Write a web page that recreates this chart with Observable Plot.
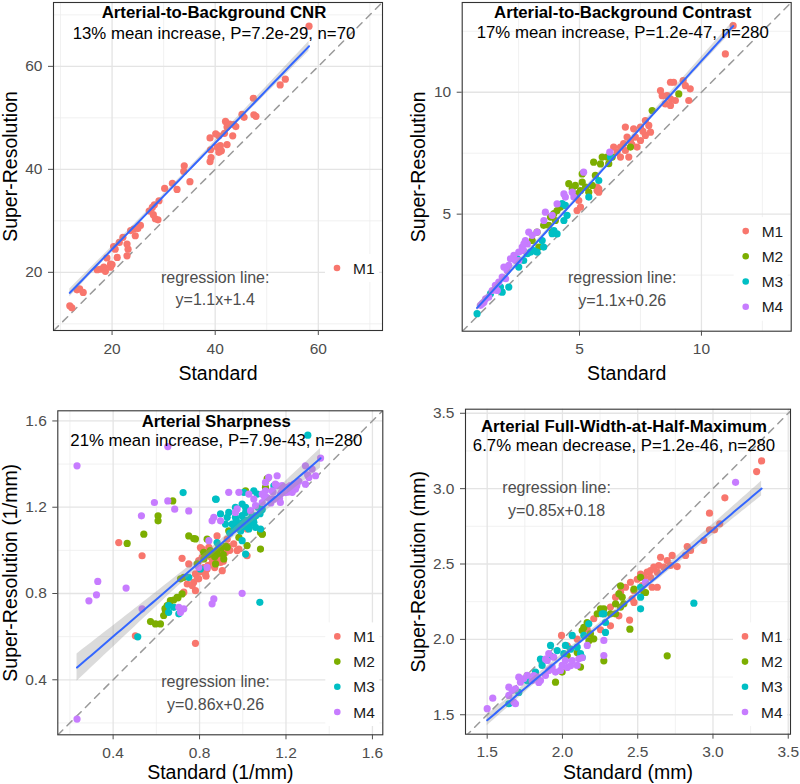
<!DOCTYPE html>
<html><head><meta charset="utf-8">
<script src="https://cdn.jsdelivr.net/npm/d3@7"></script>
<script src="https://cdn.jsdelivr.net/npm/@observablehq/plot@0.6"></script>
<style>
body{margin:0;background:#fff;}
#grid{display:grid;grid-template-columns:400px 400px;grid-template-rows:392px 392px;width:800px;height:784px;}
#grid svg{display:block;overflow:visible;}
</style></head><body><div id="grid"></div>
<script>
const methods = ["M1","M2","M3","M4"];
const methodColors = ["#F8766D","#7CAE00","#00BFC4","#C77CFF"];

// Panel 1: Arterial-to-Background CNR (M1 only) [standard, super-resolution]
const cnrM1 = [[58.2,67.8],[53.6,57.5],[52.6,56.4],[47.4,53.8],[47.5,50.6],[47.9,50.3],[45.2,50.7],[45.6,50.1],[43.6,48.7],[44.0,48.3],[42.0,49.3],[42.3,48.2],[42.8,48.8],[43.4,46.5],[42.3,44.8],[40.7,46.5],[40.1,46.9],[39.0,46.1],[39.1,43.8],[39.0,41.5],[39.2,42.3],[40.4,44.3],[40.7,43.3],[41.2,43.6],[41.0,44.6],[41.8,47.0],[34.0,40.7],[33.9,39.6],[35.1,37.6],[31.7,37.3],[30.2,36.3],[32.6,36.1],[29.1,33.9],[28.2,33.1],[27.8,32.6],[27.2,31.9],[28.4,30.4],[28.9,30.2],[28.0,31.2],[25.5,29.1],[24.2,28.4],[23.6,28.1],[24.5,27.1],[25.0,28.5],[22.1,26.8],[21.4,25.8],[22.9,25.5],[23.1,24.5],[22.9,23.2],[20.3,25.0],[20.6,24.5],[21.0,22.9],[19.0,22.8],[19.7,21.6],[18.4,21.0],[17.7,20.6],[17.1,20.5],[18.7,20.2],[19.7,21.0],[20.0,21.5],[13.7,16.8],[13.2,16.6],[14.4,16.1],[11.8,13.5],[12.2,13.1]];

// Panel 2: Arterial-to-Background Contrast
const contrastM1 = [[11.30,12.73],[10.98,11.57],[8.73,10.41],[8.86,10.41],[9.25,10.48],[9.34,10.27],[9.54,10.14],[8.32,10.07],[8.39,9.86],[8.59,9.86],[8.73,9.73],[8.93,9.66],[8.73,9.46],[8.52,9.52],[9.48,9.66],[7.70,8.84],[7.50,8.57],[6.88,8.57],[7.22,8.50],[7.84,8.64],[7.91,8.36],[7.70,8.23],[7.50,8.02],[7.29,8.16],[7.09,8.02],[6.95,8.16],[6.81,7.89],[6.68,7.75],[6.88,7.61],[6.54,7.54],[7.02,7.34],[6.68,7.34],[6.40,7.75],[7.36,7.75],[5.79,6.04],[5.72,5.97],[5.72,6.11],[5.79,5.90],[4.97,5.56],[4.90,5.15],[5.04,5.29],[7.60,8.40],[7.15,7.85]];
const contrastM2 = [[9.07,9.93],[7.98,9.25],[7.09,7.75],[6.34,7.34],[6.20,7.07],[5.93,7.34],[5.58,7.13],[5.65,6.59],[5.52,6.18],[4.56,6.25],[4.83,6.18],[5.11,6.31],[5.04,5.97],[5.25,6.11],[5.38,5.90],[5.11,6.65],[4.90,5.83],[3.95,5.02],[4.08,5.15],[3.81,4.88],[3.53,4.54],[4.01,4.74],[3.26,4.26],[3.06,3.92],[3.33,3.65],[3.74,4.54],[4.22,5.29],[6.13,7.34],[5.86,7.06],[4.70,6.05],[3.88,4.26]];
const contrastM3 = [[5.79,6.38],[5.38,5.70],[4.42,5.36],[4.29,5.43],[3.88,4.20],[3.95,4.33],[3.47,3.92],[3.53,3.65],[3.12,3.51],[2.99,3.44],[2.71,3.10],[2.51,2.83],[2.10,2.01],[1.83,1.80],[1.35,1.74],[0.80,0.92],[6.27,7.34],[4.36,4.74],[4.49,4.95],[4.08,4.19],[2.86,3.38],[3.26,3.44],[2.45,3.17],[1.76,2.01]];
const contrastM4 = [[6.24,7.54],[5.17,6.72],[4.70,5.90],[4.77,5.70],[4.42,5.70],[4.36,5.83],[3.60,5.08],[3.88,4.95],[2.92,4.26],[3.06,4.13],[2.78,3.92],[2.65,3.65],[2.51,3.44],[2.31,3.31],[2.37,3.10],[2.10,2.90],[2.03,2.69],[1.83,2.42],[1.69,2.21],[1.55,2.08],[1.42,1.87],[1.28,1.60],[1.08,1.39],[0.94,1.26],[2.51,3.10],[2.71,3.51],[4.08,5.42],[3.54,4.74],[3.26,4.26],[2.86,3.78],[2.72,3.78],[2.17,3.17],[1.97,2.35],[1.63,1.87],[1.90,2.83],[1.15,1.53],[1.01,1.33]];

// Panel 3: Arterial Sharpness (1/mm)
const sharpM1 = [[0.426,1.036],[0.534,0.975],[0.503,0.604],[0.719,0.963],[0.781,0.569],[0.750,0.937],[0.796,0.952],[0.812,1.006],[1.020,0.975],[0.974,0.999],[0.781,0.891],[0.796,0.868],[0.773,0.852],[0.827,0.891],[0.835,0.914],[0.905,0.906],[0.743,0.844],[0.766,0.837],[0.781,0.813],[0.727,0.806],[0.982,1.006],[0.958,1.030],[1.020,1.099],[0.889,0.983],[0.843,1.014],[0.812,0.968],[0.866,0.959],[0.897,0.944],[0.827,0.990],[1.028,1.137],[0.881,1.067],[0.928,1.052],[0.804,1.013],[0.80,0.90],[0.82,0.92],[0.84,0.93],[0.86,0.95],[0.88,0.96],[0.90,0.97],[0.92,0.99],[0.94,1.00],[0.83,0.88],[0.87,0.92],[0.91,0.95],[0.79,0.87],[0.85,0.97],[0.89,0.99],[0.93,1.02]];
const sharpM2 = [[0.465,1.032],[0.542,1.075],[0.608,1.160],[0.608,1.137],[0.676,1.229],[0.750,1.067],[0.773,1.055],[1.082,1.006],[0.819,0.991],[0.850,0.999],[0.881,0.983],[0.912,0.960],[0.874,0.937],[0.789,0.937],[0.727,0.875],[0.712,0.868],[0.719,0.798],[0.696,0.782],[0.665,0.767],[0.650,0.744],[0.642,0.721],[0.634,0.698],[0.573,0.670],[0.596,0.659],[0.619,0.659],[1.013,1.276],[1.105,1.292],[1.051,1.153],[1.082,1.083],[1.090,1.076],[1.020,1.022],[0.982,1.060],[0.935,1.091],[0.928,1.014],[0.889,1.014],[0.781,1.053],[1.090,1.075],[1.113,1.333],[0.835,1.052],[0.82,0.96],[0.84,0.98],[0.86,0.99],[0.88,1.00],[0.90,1.01],[0.92,1.02],[0.87,0.97],[0.91,0.98],[0.66,0.75],[0.68,0.77],[0.70,0.78],[0.64,0.73]];
const sharpM3 = [[1.301,1.534],[0.514,0.599],[0.724,1.268],[0.877,1.237],[1.079,0.759],[0.804,0.914],[0.750,0.875],[0.657,0.744],[0.681,0.736],[0.657,0.713],[0.704,0.706],[0.874,1.238],[1.005,1.269],[1.051,1.276],[1.067,1.261],[0.997,1.215],[1.013,1.199],[0.966,1.199],[0.935,1.176],[0.928,1.153],[0.966,1.153],[0.997,1.161],[1.013,1.176],[1.044,1.161],[1.051,1.130],[1.005,1.122],[1.028,1.099],[1.059,1.107],[0.982,1.107],[0.951,1.122],[0.920,1.122],[0.897,1.169],[0.997,1.045],[1.082,1.099],[1.013,0.983],[1.144,1.299],[0.881,1.036],[0.96,1.10],[0.98,1.12],[1.00,1.13],[1.02,1.14],[1.04,1.15],[1.06,1.16],[1.08,1.17],[0.99,1.09],[1.01,1.11],[1.03,1.12],[1.05,1.13],[1.07,1.20],[0.94,1.08],[0.97,1.14],[1.09,1.19]];
const sharpM4 = [[0.233,1.392],[0.233,0.218],[0.653,1.481],[0.288,0.766],[0.323,0.794],[0.329,0.856],[0.460,0.825],[0.531,1.160],[0.534,0.729],[0.591,1.222],[0.653,1.229],[0.685,1.191],[0.750,1.183],[0.997,0.801],[0.866,0.775],[0.858,0.752],[0.704,0.736],[0.727,0.729],[0.712,0.713],[0.835,0.921],[0.796,0.921],[1.360,1.428],[1.290,1.392],[1.321,1.377],[1.337,1.346],[1.306,1.338],[1.290,1.307],[1.236,1.307],[1.244,1.284],[1.229,1.269],[1.206,1.292],[1.159,1.346],[1.120,1.338],[1.105,1.315],[1.151,1.307],[1.182,1.300],[1.175,1.261],[1.136,1.276],[1.105,1.276],[1.090,1.261],[1.113,1.245],[1.136,1.238],[1.090,1.222],[1.059,1.207],[1.051,1.238],[1.036,1.184],[0.966,1.176],[0.974,1.192],[0.935,1.269],[0.982,1.269],[1.028,1.261],[0.866,1.153],[0.858,1.137],[0.897,1.137],[0.843,1.045],[1.197,1.268],[1.221,1.283],[1.174,1.222],[1.144,1.237],[1.10,1.25],[1.14,1.27],[1.18,1.27],[1.22,1.30],[1.26,1.32],[1.13,1.22],[1.17,1.24],[1.21,1.27],[1.25,1.30],[1.30,1.35],[1.16,1.30]];

// Panel 4: Arterial Full-Width-at-Half-Maximum (mm)
const fwhmM1 = [[3.323,3.184],[3.290,3.113],[3.079,2.939],[2.977,2.837],[2.977,2.727],[3.010,2.727],[3.045,2.767],[2.939,2.656],[2.829,2.616],[2.851,2.590],[2.818,2.557],[2.729,2.557],[2.696,2.523],[2.718,2.490],[2.652,2.545],[2.640,2.490],[2.607,2.479],[2.630,2.446],[2.585,2.457],[2.563,2.446],[2.585,2.412],[2.541,2.412],[2.530,2.357],[2.474,2.324],[2.596,2.346],[2.630,2.346],[2.674,2.479],[2.762,2.483],[2.452,2.379],[2.386,2.313],[2.463,2.269],[2.353,2.280],[2.419,2.346],[2.319,2.214],[2.275,2.170],[1.994,2.026],[2.208,2.137],[2.446,2.128],[2.253,2.064],[2.164,2.068],[2.098,2.002],[2.032,1.957],[2.187,2.002],[2.319,2.090],[2.375,2.156],[2.497,2.399],[2.519,2.433],[2.475,2.245]];
const fwhmM2 = [[2.696,1.891],[2.448,2.068],[2.519,2.412],[2.541,2.313],[2.375,2.302],[2.397,2.280],[2.353,2.236],[2.386,2.214],[2.408,2.236],[2.275,2.203],[2.319,2.170],[2.353,2.170],[2.231,2.170],[2.186,2.037],[2.208,2.004],[2.131,2.059],[2.253,2.203],[1.954,1.716],[1.998,1.783],[2.120,1.816],[2.275,1.858],[2.098,1.913],[2.164,2.112],[2.142,2.079],[1.766,1.759],[2.552,2.311],[2.475,2.333],[2.386,2.355],[2.032,1.891],[2.176,1.991]];
const fwhmM3 = [[2.873,2.240],[2.519,2.346],[2.519,2.280],[2.519,2.203],[2.275,2.170],[1.921,1.960],[1.965,1.926],[2.009,1.905],[2.065,2.026],[2.142,2.026],[2.175,2.103],[2.264,2.170],[2.020,1.960],[2.098,1.948],[2.120,1.905],[1.644,1.573],[1.821,1.783],[1.865,1.827],[2.286,2.112],[2.286,2.046],[2.054,1.935],[2.131,1.880],[1.921,1.891],[1.854,1.869],[1.710,1.648],[1.766,1.725]];
const fwhmM4 = [[3.150,3.042],[2.552,2.379],[1.500,1.540],[1.537,1.610],[1.644,1.683],[1.666,1.661],[1.688,1.672],[1.644,1.628],[1.677,1.584],[1.688,1.573],[1.710,1.749],[1.743,1.739],[1.721,1.716],[1.766,1.761],[1.799,1.727],[1.832,1.749],[1.854,1.727],[1.887,1.761],[1.909,1.794],[1.932,1.816],[1.954,1.783],[1.987,1.794],[1.998,1.827],[2.020,1.860],[1.899,1.860],[1.942,1.882],[1.909,1.905],[2.065,1.860],[2.098,1.827],[2.109,1.871],[2.131,1.878],[2.165,1.960],[2.275,1.893],[2.275,1.993],[2.032,1.814],[2.054,1.825],[1.888,1.869],[1.921,1.803],[1.810,1.759],[1.843,1.714],[2.552,2.377]];

// Regression lines as drawn in the reference (slope, intercept)
const regSlopes = [1.032, 1.101, 0.861, 0.843];
const regIntercepts = [3.83, 0.273, 0.256, 0.199];

// Texts and axes
const panelTitles = ["Arterial-to-Background CNR","Arterial-to-Background Contrast","Arterial Sharpness","Arterial Full-Width-at-Half-Maximum"];
const panelSubtitles = ["13% mean increase, P=7.2e-29, n=70","17% mean increase, P=1.2e-47, n=280","21% mean increase, P=7.9e-43, n=280","6.7% mean decrease, P=1.2e-46, n=280"];
const xLabels = ["Standard","Standard","Standard (1/mm)","Standard (mm)"];
const yLabels = ["Super-Resolution","Super-Resolution","Super-Resolution (1/mm)","Super-Resolution (mm)"];
const equations = ["y=1.1x+1.4","y=1.1x+0.26","y=0.86x+0.26","y=0.85x+0.18"];
const equationAt = [[40,17.2],[6.75,2.0],[0.874,0.346],[1.961,2.942]];
const panelSeries = [[cnrM1],[contrastM1,contrastM2,contrastM3,contrastM4],[sharpM1,sharpM2,sharpM3,sharpM4],[fwhmM1,fwhmM2,fwhmM3,fwhmM4]];
const xDomains = [[8.64,72.45],[0.19,13.68],[0.144,1.648],[1.356,3.515]];
const yDomains = [[8.7,72.4],[0.2,13.68],[0.145,1.647],[1.371,3.527]];
const majorTicks = [[20,40,60],[5,10],[0.4,0.8,1.2,1.6],[1.5,2.0,2.5,3.0,3.5]];
const minorTicks = [[10,30,50,70],[2.5,7.5,12.5],[0.2,0.6,1.0,1.4],[1.75,2.25,2.75,3.25]];
const tickFormats = [d3.format("d"),d3.format("d"),d3.format(".1f"),d3.format(".1f")];

// Layout (pixels)
const layout = [
  {ml:53, mr:18, mt:2, mb:62, titleDy:10.3, subDy:31.3, xlabDy:43, ylabDx:-43, legLast:62},
  {ml:61.7, mr:9.3, mt:2, mb:61.3, titleDy:9.7, subDy:29.7, xlabDy:42.3, ylabDx:-43.7, legLast:24},
  {ml:57.3, mr:17.7, mt:18.3, mb:49.7, titleDy:11, subDy:30, xlabDy:37.7, ylabDx:-47.3, legLast:22.3},
  {ml:65, mr:10, mt:16.7, mb:50.3, titleDy:17.6, subDy:36.6, xlabDy:38.3, ylabDx:-47, legLast:21.7}
];
const W = 400, H = 392;
const FONT = "'Liberation Sans', Arial, Helvetica, sans-serif";

// 95% confidence band around the drawn line; spread taken from the data's own least-squares residuals
function regressionBand(table, a, b) {
  const n = table.length;
  const mx = d3.mean(table, d => d.x), my = d3.mean(table, d => d.y);
  const sxx = d3.sum(table, d => (d.x - mx) ** 2);
  const sxy = d3.sum(table, d => (d.x - mx) * (d.y - my));
  const bOls = sxy / sxx, aOls = my - bOls * mx;
  const s = Math.sqrt(d3.sum(table, d => (d.y - (aOls + bOls * d.x)) ** 2) / (n - 2));
  const [x0, x1] = d3.extent(table, d => d.x);
  return d3.ticks(x0, x1, 60).concat([x0, x1]).sort(d3.ascending).map(x => {
    const se = 1.97 * s * Math.sqrt(1 / n + (x - mx) ** 2 / sxx);
    const y = a * x + b;
    return {x, y, y1: y - se, y2: y + se};
  });
}

function legendMark(keys, L) {
  return () => {
    const g = d3.create("svg:g");
    const right = W - L.mr, bottom = H - L.mb, step = 25.2, n = keys.length;
    const cy = i => bottom - L.legLast - (n - 1 - i) * step;
    g.append("rect").attr("x", right - 57).attr("y", cy(0) - 14).attr("width", 54)
      .attr("height", cy(n - 1) - cy(0) + 28).attr("fill", "white");
    keys.forEach((k, i) => {
      g.append("circle").attr("cx", right - 45).attr("cy", cy(i)).attr("r", 3.3)
        .attr("fill", methodColors[methods.indexOf(k)]);
      g.append("text").attr("x", right - 29).attr("y", cy(i)).attr("dy", "0.36em")
        .attr("text-anchor", "start")
        .attr("font-size", 15.5).attr("fill", "#1a1a1a").attr("font-family", FONT).text(k);
    });
    return g.node();
  };
}

const grid = document.getElementById("grid");
panelSeries.forEach((series, p) => {
  const L = layout[p];
  const keys = methods.slice(0, series.length);
  const table = series.flatMap((pts, i) => pts.map(([x, y]) => ({x, y, method: methods[i]})));
  const band = regressionBand(table, regSlopes[p], regIntercepts[p]);
  const lo = Math.min(xDomains[p][0], yDomains[p][0]);
  const hi = Math.max(xDomains[p][1], yDomains[p][1]);
  const chart = Plot.plot({
    width: W, height: H,
    marginLeft: L.ml, marginRight: L.mr, marginTop: L.mt, marginBottom: L.mb,
    x: {domain: xDomains[p]},
    y: {domain: yDomains[p]},
    color: {domain: methods, range: methodColors},
    style: {fontFamily: FONT, background: "white", overflow: "visible"},
    marks: [
      Plot.gridX(minorTicks[p], {stroke: "#EEEEEE", strokeOpacity: 1, strokeWidth: 0.8}),
      Plot.gridY(minorTicks[p], {stroke: "#EEEEEE", strokeOpacity: 1, strokeWidth: 0.8}),
      Plot.gridX(majorTicks[p], {stroke: "#E4E4E4", strokeOpacity: 1, strokeWidth: 1.3}),
      Plot.gridY(majorTicks[p], {stroke: "#E4E4E4", strokeOpacity: 1, strokeWidth: 1.3}),
      Plot.line([lo, hi], {x: d => d, y: d => d, stroke: "#9a9a9a", strokeWidth: 1.5, strokeDasharray: "7,6", clip: true}),
      Plot.dot(table, {x: "x", y: "y", fill: "method", r: 3.6}),
      Plot.areaY(band, {x: "x", y1: "y1", y2: "y2", fill: "#999999", fillOpacity: 0.35}),
      Plot.line(band, {x: "x", y: "y", stroke: "#3366FF", strokeWidth: 2}),
      Plot.text([{x: equationAt[p][0], y: equationAt[p][1], t: "regression line:\n" + equations[p]}],
        {x: "x", y: "y", text: "t", fontSize: 16, fill: "#4d4d4d", lineHeight: 1.42, lineAnchor: "middle"}),
      Plot.text([panelTitles[p]], {frameAnchor: "top", text: d => d, dx: -4, dy: L.titleDy, lineAnchor: "middle", fontSize: 16.8, fontWeight: "bold", fill: "black"}),
      Plot.text([panelSubtitles[p]], {frameAnchor: "top", text: d => d, dx: -4, dy: L.subDy, lineAnchor: "middle", fontSize: 16.8, fill: "black"}),
      legendMark(keys, L),
      Plot.frame({stroke: "#333333", strokeWidth: 1.1}),
      Plot.axisX(majorTicks[p], {tickSize: 5, tickPadding: 7, fontSize: 15.5, color: "#4d4d4d", tickFormat: tickFormats[p], label: null}),
      Plot.axisY(majorTicks[p], {tickSize: 5, tickPadding: 6, fontSize: 15.5, color: "#4d4d4d", tickFormat: tickFormats[p], label: null}),
      Plot.text([xLabels[p]], {frameAnchor: "bottom", text: d => d, dy: L.xlabDy, lineAnchor: "middle", fontSize: 19.5, fill: "black"}),
      Plot.text([yLabels[p]], {frameAnchor: "left", text: d => d, dx: L.ylabDx, rotate: -90, lineAnchor: "middle", textAnchor: "middle", fontSize: 19.5, fill: "black"})
    ]
  });
  grid.appendChild(chart);
});
</script>
</body></html>
